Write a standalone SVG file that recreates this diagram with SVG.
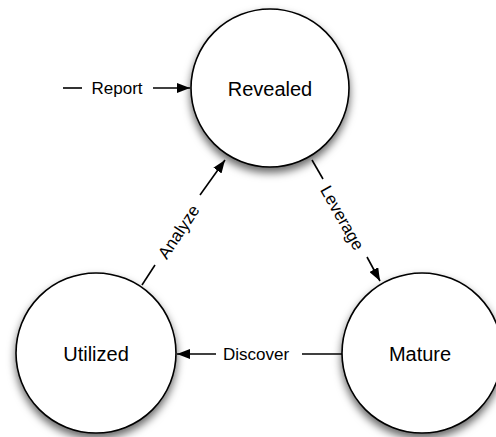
<svg xmlns="http://www.w3.org/2000/svg" width="496" height="437" viewBox="0 0 496 437">
<defs>
<style>
.node circle{fill:#fff;stroke:#000;stroke-width:1.6;filter:url(#sh)}
.node text{font-family:"Liberation Sans",Arial,sans-serif;font-size:20px;text-anchor:middle;dominant-baseline:central;fill:#000}
.lbl{font-family:"Liberation Sans",Arial,sans-serif;font-size:17px;text-anchor:middle;dominant-baseline:central;fill:#000}
.ln{stroke:#000;stroke-width:1.6;fill:none}
</style>
<filter id="sh" x="-30%" y="-30%" width="160%" height="170%">
<feDropShadow dx="0" dy="5" stdDeviation="4" flood-color="#000" flood-opacity="0.6"/>
</filter>
<marker id="ah" viewBox="0 0 13 10" refX="13" refY="5" markerWidth="13" markerHeight="10" markerUnits="userSpaceOnUse" orient="auto">
<path d="M0,0 L13,5 L0,10 Z" fill="#000"/>
</marker>
</defs>
<g id="revealed" class="node"><circle cx="270" cy="88" r="79"/><text x="270" y="89">Revealed</text></g>
<g id="utilized" class="node"><circle cx="96" cy="353" r="80"/><text x="96" y="354">Utilized</text></g>
<g id="mature" class="node"><circle cx="422" cy="353" r="80"/><text x="420" y="354">Mature</text></g>
<g id="connectors">
<line class="ln" x1="63" y1="88" x2="82" y2="88"/>
<line class="ln" x1="153" y1="88" x2="190" y2="88" marker-end="url(#ah)"/>
<text class="lbl" x="117" y="88">Report</text>
<line class="ln" x1="312" y1="160" x2="323" y2="179"/>
<line class="ln" x1="367" y1="257" x2="380" y2="281" marker-end="url(#ah)"/>
<text class="lbl" transform="translate(342,218) rotate(60.7)">Leverage</text>
<line class="ln" x1="342" y1="354" x2="302" y2="354"/>
<line class="ln" x1="216" y1="354" x2="177" y2="354" marker-end="url(#ah)"/>
<text class="lbl" x="256" y="354">Discover</text>
<line class="ln" x1="142" y1="285" x2="155" y2="265"/>
<line class="ln" x1="200" y1="195" x2="225" y2="160" marker-end="url(#ah)"/>
<text class="lbl" transform="translate(179,232) rotate(-56.4)">Analyze</text>
</g>
</svg>
